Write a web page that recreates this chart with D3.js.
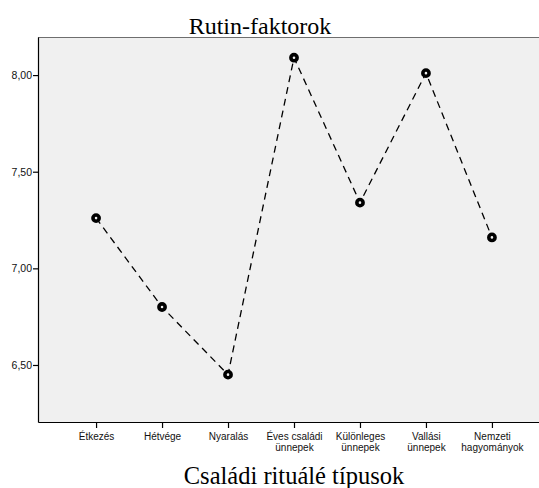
<!DOCTYPE html>
<html><head><meta charset="utf-8">
<script src="https://cdn.jsdelivr.net/npm/d3@7"></script>
<style>body{margin:0;background:#fff}svg{display:block}</style>
</head><body>
<svg id="c" width="539" height="488"></svg>
<script>
const categories = [["Étkezés"],["Hétvége"],["Nyaralás"],["Éves családi","ünnepek"],["Különleges","ünnepek"],["Vallási","ünnepek"],["Nemzeti","hagyományok"]];
const values = [7.26, 6.80, 6.45, 8.09, 7.34, 8.01, 7.16];
const yTicks = [6.5, 7.0, 7.5, 8.0];
const title = "Rutin-faktorok";
const xTitle = "Családi rituálé típusok";

const svg = d3.select("#c");
const L = 38, R = 550, T = 37, B = 422;
const keys = categories.map(c => c.join(" "));
const x = d3.scalePoint().domain(keys).range([L, R]).padding(0.88);
const y = d3.scaleLinear().domain([6.205, 8.197]).range([B, T]);
const loc = d3.formatLocale({decimal: ",", thousands: " ", grouping: [3], currency: ["", ""]});
const fmt = loc.format(".2f");

svg.append("rect").attr("x", L).attr("y", T).attr("width", R - L).attr("height", B - T).attr("fill", "#f0f0f0");
svg.append("line").attr("x1", L).attr("x2", R).attr("y1", T + 0.5).attr("y2", T + 0.5).attr("stroke", "#6e6e6e").attr("stroke-width", 1);

// y axis
const ya = svg.append("g").attr("transform", `translate(${L},0)`)
  .call(d3.axisLeft(y).tickValues(yTicks).tickFormat(fmt).tickSize(5).tickSizeOuter(0).tickPadding(1));
ya.select(".domain").attr("stroke", "#000").attr("stroke-width", 1.2);
ya.selectAll(".tick line").attr("stroke", "#000").attr("stroke-width", 1.2);
ya.selectAll("text").attr("font-family", "Liberation Sans, Arial, sans-serif").attr("font-size", 10.5).attr("fill", "#111");

// x axis
const xa = svg.append("g").attr("transform", `translate(0,${B})`)
  .call(d3.axisBottom(x).tickSize(6).tickSizeOuter(0).tickFormat(""));
xa.select(".domain").attr("stroke", "#000").attr("stroke-width", 1.2);
xa.selectAll(".tick line").attr("stroke", "#000").attr("stroke-width", 1.2);
xa.selectAll(".tick").each(function(d, i) {
  const t = d3.select(this).append("text")
    .attr("fill", "#111").attr("font-family", "Liberation Sans, Arial, sans-serif")
    .attr("font-size", 10).attr("text-anchor", "middle");
  categories[i].forEach((line, j) => {
    t.append("tspan").attr("x", 0).attr("y", 18 + j * 11).text(line);
  });
});

// line
const pts = keys.map((k, i) => [x(k), y(values[i])]);
svg.append("path").attr("d", d3.line()(pts)).attr("fill", "none")
  .attr("stroke", "#000").attr("stroke-width", 1.3).attr("stroke-dasharray", "7,5");

svg.selectAll("circle.m").data(values).join("circle").attr("class", "m")
  .attr("cx", (d, i) => x(keys[i])).attr("cy", d => y(d)).attr("r", 3.1)
  .attr("fill", "#f0f0f0").attr("stroke", "#000").attr("stroke-width", 3.6);

svg.append("text").attr("x", 260).attr("y", 34).attr("text-anchor", "middle")
  .attr("font-family", "Liberation Serif, Times New Roman, serif").attr("font-size", 24).text(title);
svg.append("text").attr("x", 294).attr("y", 484).attr("text-anchor", "middle")
  .attr("font-family", "Liberation Serif, Times New Roman, serif").attr("font-size", 24.5).text(xTitle);
</script>
</body></html>
